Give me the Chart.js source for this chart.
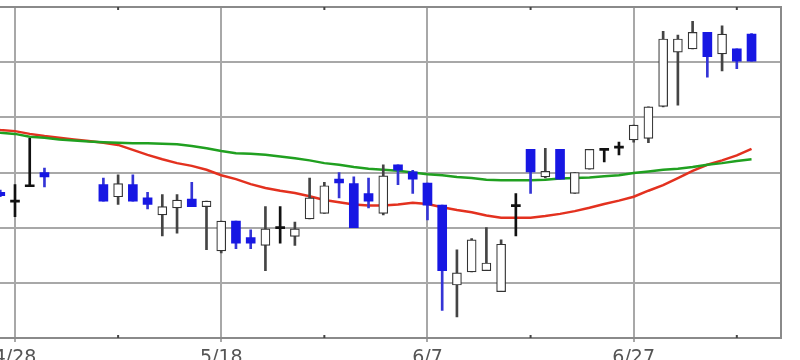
<!DOCTYPE html>
<html>
<head>
<meta charset="utf-8">
<title>Candlestick chart</title>
<script src="https://cdn.jsdelivr.net/npm/chart.js@4.4.1/dist/chart.umd.min.js"></script>
<style>
  html, body { margin: 0; padding: 0; background: #fff; overflow: hidden; }
  #wrap { position: relative; width: 800px; height: 360px; overflow: hidden; }
  #chart { position: absolute; left: -30px; top: 0; }
</style>
</head>
<body>
<div id="wrap">
  <canvas id="chart" width="830" height="380"></canvas>
</div>
<script>
/* ============================================================
   Daily candles with two moving averages.
   One slot per trading day; null = no session (holiday gap).
   ============================================================ */

// x slots, only the gridline days carry a label
const slotLabels = [
  '', '', '4/28', '', '', '', '', '', '', '', '', '', '', '', '', '',
  '5/18', '', '', '', '', '', '', '', '', '', '', '', '', '',
  '6/7', '', '', '', '', '', '', '', '', '', '', '', '', '',
  '6/27', '', '', '', '', '', '', '', '', '', ''
];
// half-way marks on the frame (slot indexes)
const minorSlots = [9, 23, 37, 51];

const opens = [
  null, 1032, 1024, 1038, 1050, null, null, null,
  1039, 1028, 1039, 1027, 1011.5, 1018, 1026, 1019, 979, 1006, 991, 984, 1000, 992,
  1008, 1013, 1044, 1040, 1031, 1013, 1057, 1050.5, 1040.5, 1020.5, 948, 960, 961, 942,
  1020, 1071, 1046, 1071, 1031, 1053, 1071, 1073, 1079.5, 1081, 1110, 1159, 1162, 1177,
  1157.5, 1162, 1175.5, null, null
];
const highs = [
  null, 1034, 1039, 1081, 1054, null, null, null,
  1045, 1048, 1048, 1032, 1030, 1030, 1041, 1024, 1006, 1006, 998, 1019, 1019, 1005,
  1045, 1041, 1050, 1046, 1045, 1057, 1057, 1052, 1040.5, 1020.5, 980, 990, 1000, 989,
  1031, 1071, 1072, 1071, 1050, 1071, 1071, 1077.5, 1093, 1109.5, 1178, 1174.5, 1187, 1177,
  1183, 1162, 1176, null, null
];
const lows = [
  null, 1028, 1010, 1038, 1037, null, null, null,
  1024, 1021, 1024, 1017, 992.5, 995, 1019, 980, 977, 981, 981, 961, 986, 984,
  1008, 1013, 1027, 1000, 1018, 1011.5, 1039, 1031, 1007, 925, 919, 960, 961, 942,
  992.5, 1031, 1045, 1044, 1031, 1053, 1059.5, 1066, 1077.5, 1077, 1109.5, 1111, 1162, 1136.5,
  1142, 1144, 1151, null, null
];
const closes = [
  null, 1029, 1024, 1038, 1046, null, null, null,
  1024, 1040, 1024, 1021, 1019, 1025, 1019, 1024, 1006, 986, 986, 999, 1000, 999,
  1027, 1038, 1040.5, 1000, 1024, 1047, 1052, 1044, 1020.5, 961, 959, 989, 968, 985,
  1020, 1050.5, 1051, 1044, 1050, 1071, 1071, 1073, 1093, 1109.5, 1171, 1171, 1177, 1155,
  1175.5, 1151, 1151, null, null
];

// short (red) and long (green) moving averages
const maShort = [
  1090, 1088.5, 1087.5, 1085, 1083, 1081.5, 1080, 1078.5, 1077, 1075, 1070.5, 1066,
  1062, 1058.5, 1056, 1052.5, 1047.5, 1044, 1039.5, 1036, 1033.5, 1031.5, 1028.5, 1025,
  1023, 1021, 1020, 1020, 1021, 1022.5, 1021.5, 1018.5, 1016, 1014, 1011, 1009, 1009,
  1009, 1010.5, 1012.5, 1015, 1018, 1021.5, 1024.5, 1028, 1033.5, 1038.5, 1045, 1051.5,
  1057, 1061, 1065.5, 1071.5, null, null
];
const maLong = [
  1087.5, 1086, 1085, 1082.5, 1081.5, 1080, 1079, 1078, 1077.5, 1077, 1076.5, 1076.5,
  1076, 1075.5, 1074, 1072, 1069.5, 1067.5, 1067, 1066, 1064.5, 1063, 1061, 1058.5,
  1057, 1055, 1053.5, 1052.5, 1051.5, 1050, 1048.5, 1047.5, 1046, 1045, 1043.5, 1043,
  1043, 1043, 1043.5, 1044.5, 1045, 1045.5, 1046.5, 1047.5, 1049.5, 1051, 1052.5, 1053.5,
  1055, 1057, 1058.5, 1060.5, 1062, null, null
];

// price axis
const yMin = 900;
const yMax = 1200;
const yStep = 50;

const colors = {
  down: '#1717e3',
  downWick: '#3434d6',
  upBorder: '#333333',
  upWick: '#444444',
  doji: '#111111',
  maShort: '#e3311f',
  maLong: '#20a020',
  grid: '#a8a8a8',
  frame: '#8a8a8a',
  minor: '#444444',
  text: '#555555'
};

/** Body range; a doji gets a thin bar so it still shows as a dash */
const bodies = opens.map((o, i) => {
  if (o === null) return null;
  const c = closes[i];
  if (o === c) return [o - 0.9, o + 0.9];
  return [Math.min(o, c), Math.max(o, c)];
});
const wicks = opens.map((o, i) => (o === null ? null : [lows[i], highs[i]]));

const kind = (i) => {
  if (opens[i] === null) return 'none';
  if (closes[i] > opens[i]) return 'up';
  if (closes[i] < opens[i]) return 'down';
  return 'doji';
};

/** Draws the box round the plot area (top and right sides have no axis)
 *  plus the small half-way marks on top and bottom edges. */
const framePlugin = {
  id: 'frame',
  afterDraw(chart) {
    const { ctx, chartArea: a } = chart;
    const xs = chart.scales.x;
    ctx.save();
    ctx.strokeStyle = colors.frame;
    ctx.lineWidth = 2;
    ctx.strokeRect(a.left, a.top, a.right - a.left, a.bottom - a.top);
    ctx.fillStyle = colors.minor;
    minorSlots.forEach((s) => {
      const px = xs.getPixelForValue(s);
      ctx.fillRect(px - 1, a.top, 2, 3);
      ctx.fillRect(px - 1, a.bottom - 3, 2, 3);
    });
    ctx.restore();
  }
};

new Chart(document.getElementById('chart'), {
  type: 'bar',
  data: {
    labels: slotLabels,
    datasets: [
      {
        type: 'line',
        label: 'MA short',
        data: maShort,
        borderColor: colors.maShort,
        borderWidth: 2.5,
        pointRadius: 0,
        tension: 0,
        order: 5
      },
      {
        type: 'line',
        label: 'MA long',
        data: maLong,
        borderColor: colors.maLong,
        borderWidth: 2.5,
        pointRadius: 0,
        tension: 0,
        order: 4
      },
      {
        label: 'wick',
        data: wicks,
        grouped: false,
        barThickness: 2,
        backgroundColor: (c) => {
          const k = kind(c.dataIndex);
          if (k === 'down') return colors.downWick;
          if (k === 'doji') return colors.doji;
          return colors.upWick;
        },
        borderWidth: 0,
        order: 3
      },
      {
        label: 'body',
        data: bodies,
        grouped: false,
        barThickness: 9,
        borderSkipped: false,
        borderWidth: (c) => (kind(c.dataIndex) === 'up' ? 1.2 : 0),
        backgroundColor: (c) => {
          const k = kind(c.dataIndex);
          if (k === 'down') return colors.down;
          if (k === 'doji') return colors.doji;
          return '#ffffff';
        },
        borderColor: colors.upBorder,
        order: 2
      }
    ]
  },
  options: {
    responsive: false,
    animation: false,
    layout: {
      padding: { left: 15.54, right: 19, top: 7, bottom: 0 }
    },
    plugins: {
      legend: { display: false },
      tooltip: { enabled: false }
    },
    scales: {
      x: {
        type: 'category',
        offset: false,
        afterFit: (scale) => { scale.height = 42; },
        grid: {
          offset: false,
          color: (c) => (c.tick && c.tick.label ? colors.grid : 'rgba(0,0,0,0)'),
          lineWidth: 2,
          tickLength: 4
        },
        border: { display: false },
        ticks: {
          autoSkip: false,
          maxRotation: 0,
          padding: 5,
          color: colors.text,
          font: { family: 'DejaVu Sans', size: 19 }
        }
      },
      y: {
        min: yMin,
        max: yMax,
        afterFit: (scale) => { scale.width = 0; },
        grid: {
          color: colors.grid,
          lineWidth: 2,
          drawTicks: false
        },
        border: { display: false },
        ticks: { display: false, stepSize: yStep }
      }
    }
  },
  plugins: [framePlugin]
});
</script>
</body>
</html>
